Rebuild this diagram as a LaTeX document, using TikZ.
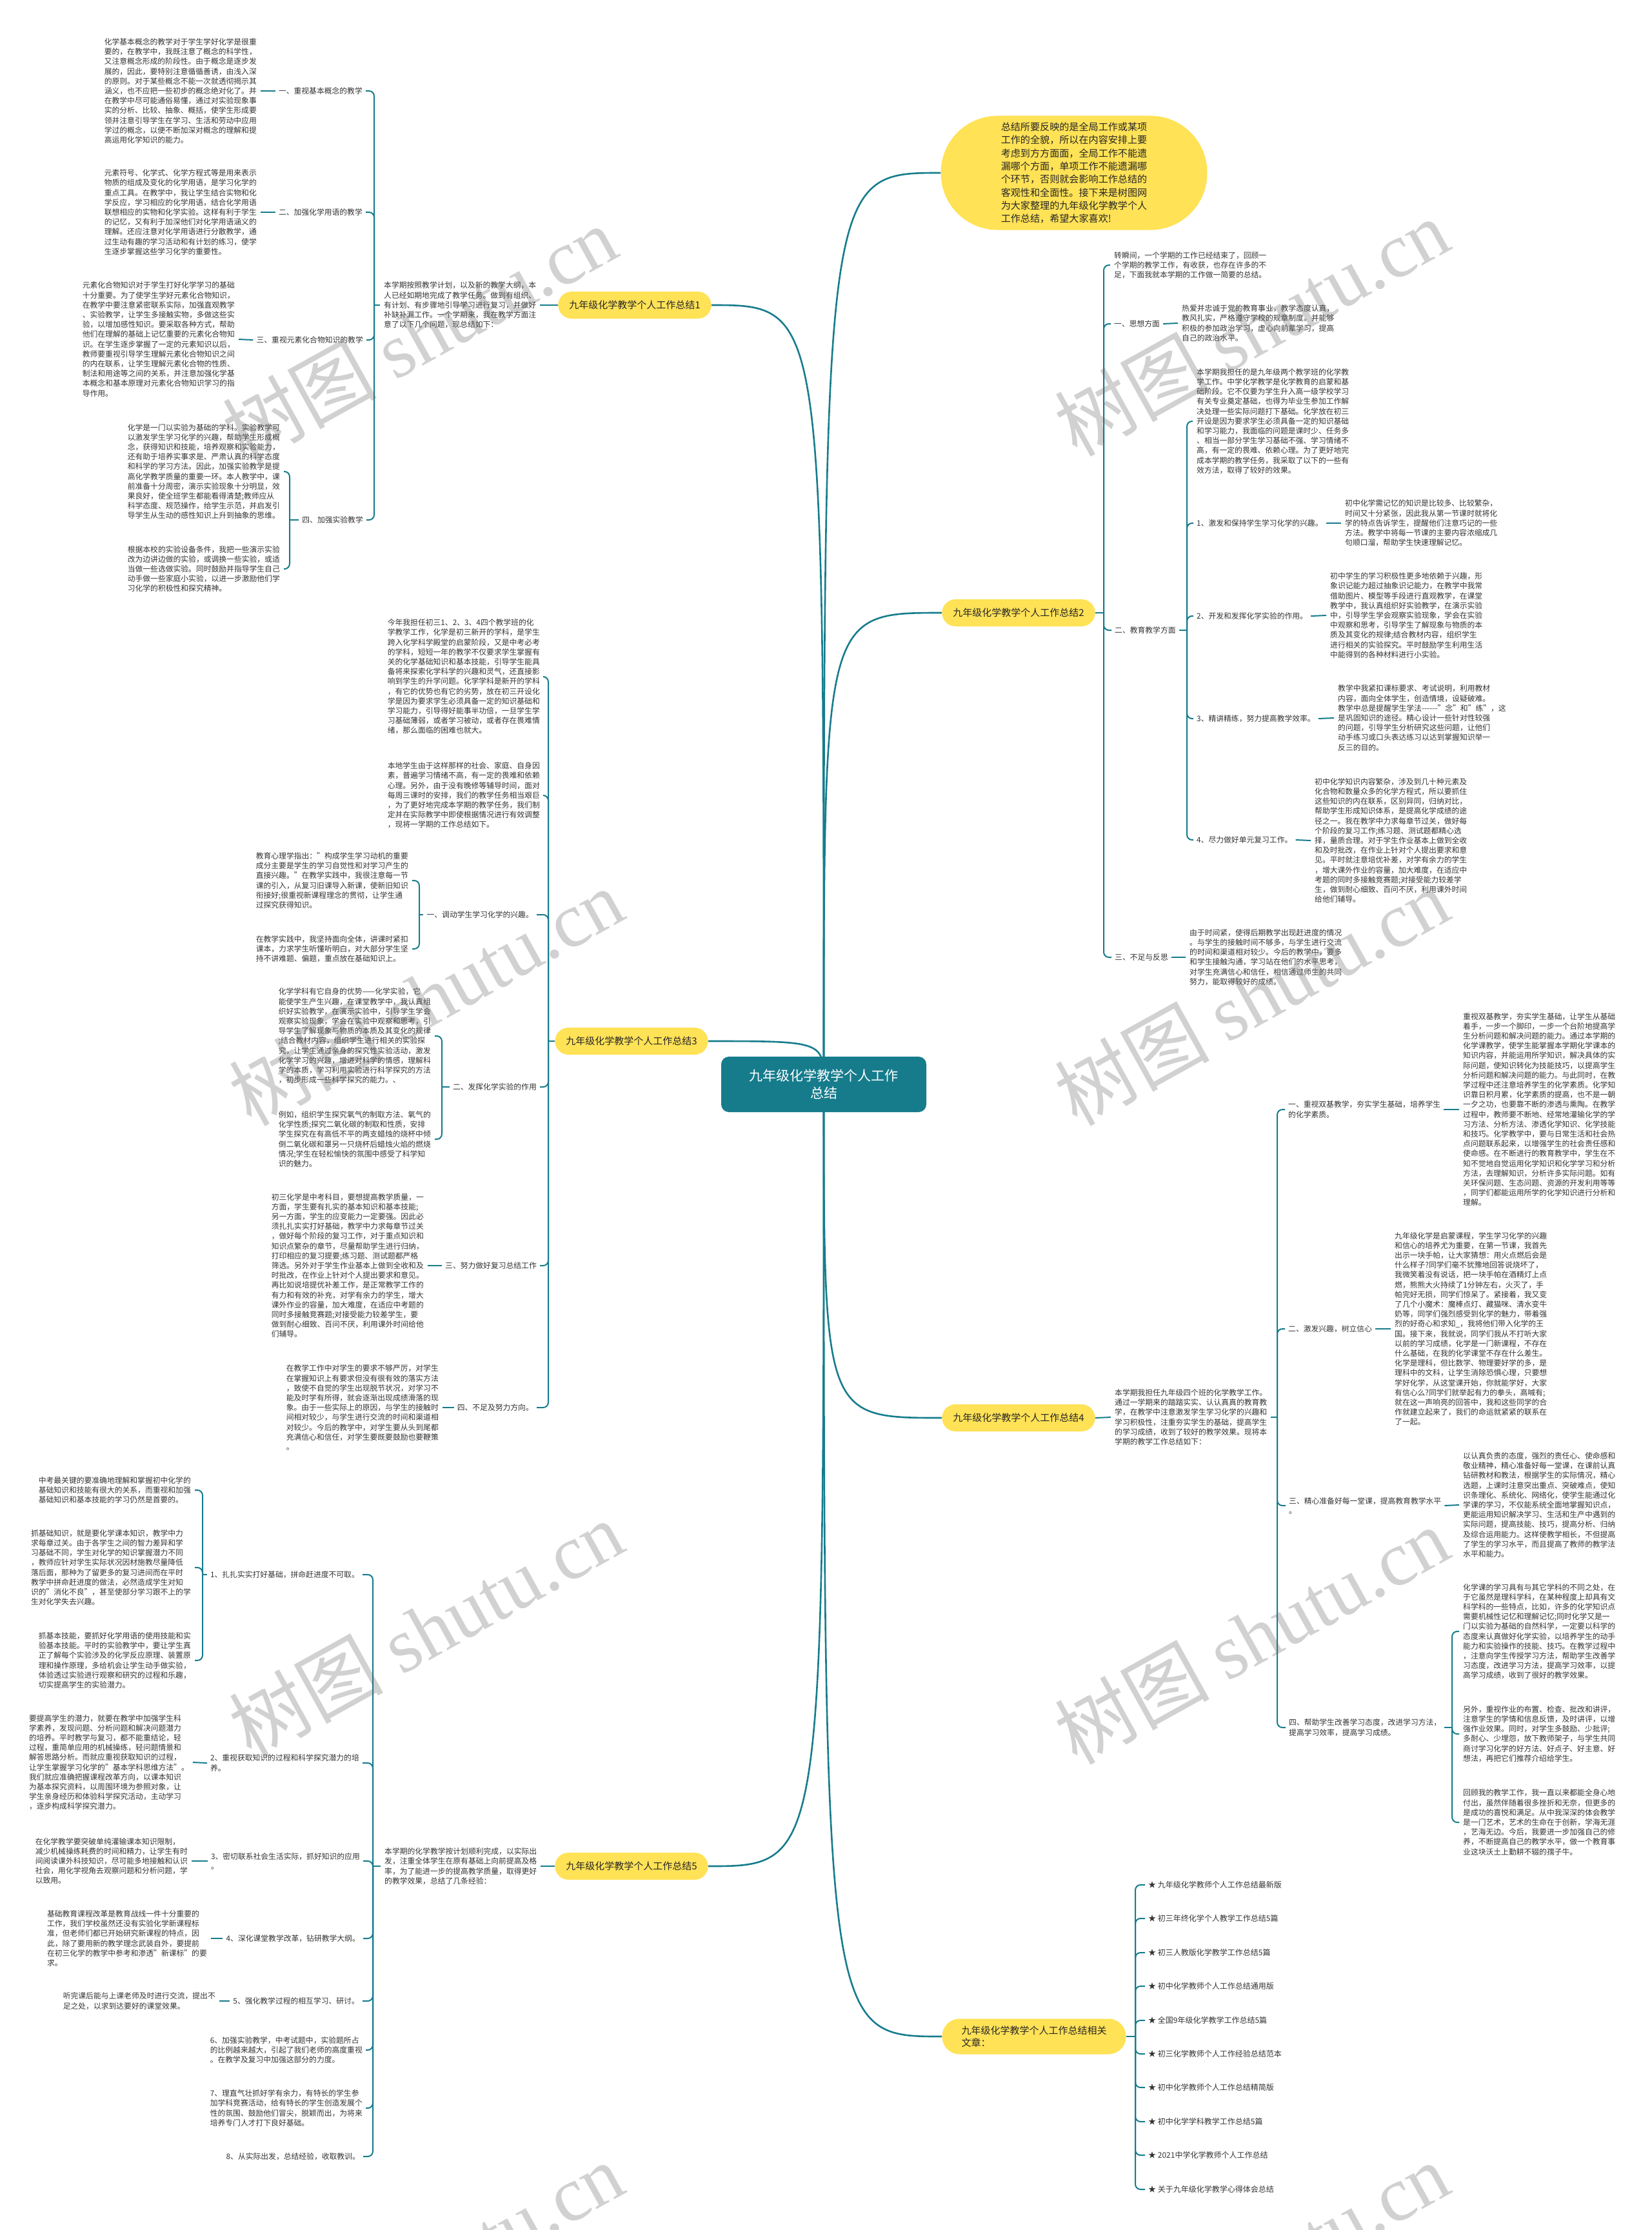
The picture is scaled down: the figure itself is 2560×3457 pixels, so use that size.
\documentclass[tikz,border=0pt]{standalone}
\usepackage{fontspec}
\setmainfont{Noto Sans CJK SC}
\newfontfamily\wmfont{Liberation Serif}
\usetikzlibrary{backgrounds}
\definecolor{branch}{RGB}{22,124,140}
\definecolor{sun}{RGB}{255,226,86}
\definecolor{ink}{RGB}{51,51,51}
\pagecolor{white}
\begin{document}
\begin{tikzpicture}[x=1pt, y=-1pt,
    txt/.style={font=\fontsize{11.8}{15.2}\selectfont, text=ink, align=left, inner xsep=6pt, inner ysep=2pt},
    lab/.style={font=\fontsize{11.8}{15.2}\selectfont, text=ink, align=left, inner xsep=5pt, inner ysep=2pt},
    rellab/.style={font=\fontsize{12}{15}\selectfont, text=ink, inner xsep=5pt, inner ysep=2pt, anchor=west},
    topic/.style={fill=sun, rounded corners=21pt, minimum height=42pt, inner xsep=17pt,
                  font=\fontsize{15}{19}\selectfont, text=black!85},
    link/.style={draw=branch, line width=2pt, rounded corners=8pt},
    trunk/.style={draw=branch, line width=2.6pt},
    wm/.style={text=black!60, text opacity=0.3, rotate=29, font=\fontsize{120}{120}\selectfont}]
  \useasboundingbox (0,0) rectangle (2560,3457);

  % root and main topics
  \node[fill=branch, rounded corners=12pt, text=white, align=center, minimum width=318pt,
        minimum height=86pt, font=\fontsize{21}{27}\selectfont] (root) at (1277,1681)
        {九年级化学教学个人工作\\总结};
  \node[fill=sun, rounded corners=88pt, minimum width=413pt, minimum height=177pt, align=left,
        font=\fontsize{15.1}{20.3}\selectfont, text=black!85] (lead) at (1665,268)
        {总结所要反映的是全局工作或某项\\工作的全貌，所以在内容安排上要\\考虑到方方面面，全局工作不能遗\\漏哪个方面，单项工作不能遗漏哪\\个环节，否则就会影响工作总结的\\客观性和全面性。接下来是树图网\\为大家整理的九年级化学教学个人\\工作总结，希望大家喜欢!};
  \node[topic] (t1) at (984,473) {九年级化学教学个人工作总结1};
  \node[topic] (t2) at (1579,950) {九年级化学教学个人工作总结2};
  \node[topic] (t3) at (979,1614) {九年级化学教学个人工作总结3};
  \node[topic] (t4) at (1579,2198) {九年级化学教学个人工作总结4};
  \node[topic] (t5) at (979,2893) {九年级化学教学个人工作总结5};
  \node[topic, rounded corners=27pt, minimum height=55pt, inner xsep=30pt, align=left] (rel) at (1603,3157)
        {九年级化学教学个人工作总结相关\\文章：};

  % summary 1
  \coordinate (h1) at (580,473);
  \node[txt, anchor=west] (s1in) at (589,473) {本学期按照教学计划，以及新的教学大纲，本\\人已经如期地完成了教学任务。做到有组织、\\有计划、有步骤地引导学习进行复习，并做好\\补缺补漏工作。一个学期来，我在教学方面注\\意了以下几个问题，现总结如下：};
  \node[lab, anchor=east] (s1a) at (567,141) {一、重视基本概念的教学};
  \node[lab, anchor=east] (s1b) at (567,329) {二、加强化学用语的教学};
  \node[lab, anchor=east] (s1c) at (568,527) {三、重视元素化合物知识的教学};
  \node[lab, anchor=east] (s1d) at (568,806) {四、加强实验教学};
  \node[txt, anchor=east] (s1at) at (404,141) {化学基本概念的教学对于学生学好化学是很重\\要的，在教学中，我既注意了概念的科学性，\\又注意概念形成的阶段性。由于概念是逐步发\\展的，因此，要特别注意循循善诱，由浅入深\\的原则。对于某些概念不能一次就透彻揭示其\\涵义，也不应把一些初步的概念绝对化了。并\\在教学中尽可能通俗易懂，通过对实验现象事\\实的分析、比较、抽象、概括，使学生形成要\\领并注意引导学生在学习、生活和劳动中应用\\学过的概念，以便不断加深对概念的理解和提\\高运用化学知识的能力。};
  \node[txt, anchor=east] (s1bt) at (404,329) {元素符号、化学式、化学方程式等是用来表示\\物质的组成及变化的化学用语，是学习化学的\\重点工具。在教学中，我让学生结合实物和化\\学反应，学习相应的化学用语，结合化学用语\\联想相应的实物和化学实验。这样有利于学生\\的记忆，又有利于加深他们对化学用语涵义的\\理解。还应注意对化学用语进行分散教学，通\\过生动有趣的学习活动和有计划的练习，使学\\生逐步掌握这些学习化学的重要性。};
  \node[txt, anchor=east] (s1ct) at (370,526) {元素化合物知识对于学生打好化学学习的基础\\十分重要。为了使学生学好元素化合物知识，\\在教学中要注意紧密联系实际，加强直观教学\\、实验教学，让学生多接触实物，多做这些实\\验，以增加感性知识。要采取各种方式，帮助\\他们在理解的基础上记忆重要的元素化合物知\\识。在学生逐步掌握了一定的元素知识以后，\\教师要重视引导学生理解元素化合物知识之间\\的内在联系，让学生理解元素化合物的性质、\\制法和用途等之间的关系，并注意加强化学基\\本概念和基本原理对元素化合物知识学习的指\\导作用。};
  \coordinate (h1d) at (449,806);
  \node[txt, anchor=east] (s1dt1) at (440,731) {化学是一门以实验为基础的学科。实验教学可\\以激发学生学习化学的兴趣，帮助学生形成概\\念，获得知识和技能，培养观察和实验能力，\\还有助于培养实事求是、严肃认真的科学态度\\和科学的学习方法。因此，加强实验教学是提\\高化学教学质量的重要一环。本人教学中，课\\前准备十分周密，演示实验现象十分明显，效\\果良好，使全班学生都能看得清楚;教师应从\\科学态度、规范操作，给学生示范，并启发引\\导学生从生动的感性知识上升到抽象的思维。};
  \node[txt, anchor=east] (s1dt2) at (440,882) {根据本校的实验设备条件，我把一些演示实验\\改为边讲边做的实验，或调换一些实验，或适\\当做一些选做实验。同时鼓励并指导学生自己\\动手做一些家庭小实验，以进一步激励他们学\\习化学的积极性和探究精神。};

  % summary 3
  \coordinate (h3) at (850,1614);
  \node[txt, anchor=east] (s3in1) at (843,1049) {今年我担任初三1、2、3、4四个教学班的化\\学教学工作，化学是初三新开的学科，是学生\\跨入化学科学殿堂的启蒙阶段，又是中考必考\\的学科，短短一年的教学不仅要求学生掌握有\\关的化学基础知识和基本技能，引导学生能具\\备将来探索化学科学的兴趣和灵气，还直接影\\响到学生的升学问题。化学学科是新开的学科\\，有它的优势也有它的劣势，放在初三开设化\\学是因为要求学生必须具备一定的知识基础和\\学习能力，引导得好能事半功倍，一旦学生学\\习基础薄弱，或者学习被动，或者存在畏难情\\绪，那么面临的困难也就大。};
  \node[txt, anchor=east] (s3in2) at (843,1233) {本地学生由于这样那样的社会、家庭、自身因\\素，普遍学习情绪不高，有一定的畏难和依赖\\心理。另外，由于没有晚修等辅导时间，面对\\每周三课时的安排，我们的教学任务相当艰巨\\，为了更好地完成本学期的教学任务，我们制\\定并在实际教学中即使根据情况进行有效调整\\，现将一学期的工作总结如下。};
  \node[lab, anchor=east] (s3a) at (832,1418) {一、调动学生学习化学的兴趣。};
  \node[lab, anchor=east] (s3b) at (837,1685) {二、发挥化学实验的作用};
  \node[lab, anchor=east] (s3c) at (837,1962) {三、努力做好复习总结工作};
  \node[lab, anchor=east] (s3d) at (832,2182) {四、不足及努力方向。};
  \coordinate (h3a) at (650,1418);
  \node[txt, anchor=east] (s3at1) at (639,1365) {教育心理学指出："构成学生学习动机的重要\\成分主要是学生的学习自觉性和对学习产生的\\直接兴趣。"在教学实践中，我很注意每一节\\课的引入，从复习旧课导入新课，使新旧知识\\衔接好;很重视新课程理念的贯彻，让学生通\\过探究获得知识。};
  \node[txt, anchor=east] (s3at2) at (639,1471) {在教学实践中，我坚持面向全体，讲课时紧扣\\课本，力求学生听懂听明白，对大部分学生坚\\持不讲难题、偏题，重点放在基础知识上。};
  \coordinate (h3b) at (685,1685);
  \node[txt, anchor=east] (s3bt1) at (674,1606) {化学学科有它自身的优势——化学实验，它\\能使学生产生兴趣，在课堂教学中，我认真组\\织好实验教学，在演示实验中，引导学生学会\\观察实验现象，学会在实验中观察和思考，引\\导学生了解现象与物质的本质及其变化的规律\\;结合教材内容，组织学生进行相关的实验探\\究，让学生通过亲身的探究性实验活动，激发\\化学学习的兴趣，增进对科学的情感，理解科\\学的本质，学习利用实验进行科学探究的方法\\，初步形成一些科学探究的能力。、};
  \node[txt, anchor=east] (s3bt2) at (674,1766) {例如，组织学生探究氧气的制取方法、氧气的\\化学性质;探究二氧化碳的制取和性质，安排\\学生探究在有高低不平的两支蜡烛的烧杯中倾\\倒二氧化碳和罩另一只烧杯后蜡烛火焰的燃烧\\情况;学生在轻松愉快的氛围中感受了科学知\\识的魅力。};
  \node[txt, anchor=east] (s3ct) at (663,1962) {初三化学是中考科目，要想提高教学质量，一\\方面，学生要有扎实的基本知识和基本技能;\\另一方面，学生的应变能力一定要强。因此必\\须扎扎实实打好基础，教学中力求每章节过关\\，做好每个阶段的复习工作，对于重点知识和\\知识点繁杂的章节，尽量帮助学生进行归纳，\\打印相应的复习提要;练习题、测试题都严格\\筛选。另外对于学生作业基本上做到全收和及\\时批改，在作业上针对个人提出要求和意见。\\再比如说培提优补差工作，是正常教学工作的\\有力和有效的补充，对学有余力的学生，增大\\课外作业的容量，加大难度，在适应中考题的\\同时多接触竞赛题;对接受能力较差学生，要\\做到耐心细致、百问不厌，利用课外时间给他\\们辅导。};
  \node[txt, anchor=east] (s3dt) at (686,2182) {在教学工作中对学生的要求不够严厉，对学生\\在掌握知识上有要求但没有很有效的落实方法\\，致使不自觉的学生出现脱节状况，对学习不\\能及时学有所得，就会逐渐出现成绩滑落的现\\象。由于一些实际上的原因，与学生的接触时\\间相对较少，与学生进行交流的时间和渠道相\\对较少。今后的教学中，对学生要从头到尾都\\充满信心和信任，对学生要既要鼓励也要鞭策\\。};

  % summary 5
  \coordinate (h5) at (578,2893);
  \node[txt, anchor=west] (s5in) at (590,2893) {本学期的化学教学按计划顺利完成，以实际出\\发，注重全体学生在原有基础上向前提高及格\\率，为了能进一步的提高教学质量，取得更好\\的教学效果，总结了几条经验：};
  \node[lab, anchor=east] (s5a) at (562,2441) {1、扎扎实实打好基础，拼命赶进度不可取。};
  \node[lab, anchor=east] (s5b) at (562,2733) {2、重视获取知识的过程和科学探究潜力的培\\养。};
  \node[lab, anchor=east] (s5c) at (563,2885) {3、密切联系社会生活实际，抓好知识的应用\\。};
  \node[lab, anchor=east] (s5d) at (563,3005) {4、深化课堂教学改革，钻研教学大纲。};
  \node[lab, anchor=east] (s5e) at (562,3102) {5、强化教学过程的相互学习、研讨。};
  \node[lab, anchor=east] (s5f) at (567,3178) {6、加强实验教学，中考试题中，实验题所占\\的比例越来越大，引起了我们老师的高度重视\\。在教学及复习中加强这部分的力度。};
  \node[lab, anchor=east] (s5g) at (567,3268) {7、理直气壮抓好学有余力，有特长的学生参\\加学科竞赛活动，给有特长的学生创造发展个\\性的氛围、鼓励他们冒尖，脱颖而出，为将来\\培养专门人才打下良好基础。};
  \node[lab, anchor=east] (s5h) at (563,3343) {8、从实际出发，总结经验，收取教训。};
  \coordinate (h5a) at (314,2441);
  \node[txt, anchor=east] (s5at1) at (302,2310) {中考最关键的要准确地理解和掌握初中化学的\\基础知识和技能有很大的关系，而重视和加强\\基础知识和基本技能的学习仍然是首要的。};
  \node[txt, anchor=east] (s5at2) at (302,2430) {抓基础知识，就是要化学课本知识，教学中力\\求每章过关。由于各学生之间的智力差异和学\\习基础不同，学生对化学的知识掌握潜力不同\\，教师应针对学生实际状况因材施教尽量降低\\落后面，那种为了留更多的复习进间而在平时\\教学中拼命赶进度的做法，必然造成学生对知\\识的"消化不良"，甚至使部分学习跟不上的学\\生对化学失去兴趣。};
  \node[txt, anchor=east] (s5at3) at (302,2574) {抓基本技能，要抓好化学用语的使用技能和实\\验基本技能。平时的实验教学中，要让学生真\\正了解每个实验涉及的化学反应原理、装置原\\理和操作原理，多给机会让学生动手做实验，\\体验透过实验进行观察和研究的过程和乐趣，\\切实提高学生的实验潜力。};
  \node[txt, anchor=east] (s5bt) at (299,2732) {要提高学生的潜力，就要在教学中加强学生科\\学素养，发现问题、分析问题和解决问题潜力\\的培养。平时教学与复习，都不能重结论，轻\\过程，重简单应用的机械操练，轻问题情景和\\解答思路分析。而就应重视获取知识的过程，\\让学生掌握学习化学的"基本学科思维方法"。\\我们就应准确把握课程改革方向，以课本知识\\为基本探究资料，以周围环境为参照对象，让\\学生亲身经历和体验科学探究活动，主动学习\\，逐步构成科学探究潜力。};
  \node[txt, anchor=east] (s5ct) at (297,2885) {在化学教学要突破单纯灌输课本知识限制，\\减少机械操练耗费的时间和精力，让学生有时\\间阅读课外科技知识，尽可能多地接触和认识\\社会，用化学视角去观察问题和分析问题，学\\以致用。};
  \node[txt, anchor=east] (s5dt) at (327,3005) {基础教育课程改革是教育战线一件十分重要的\\工作，我们学校虽然还没有实验化学新课程标\\准，但老师们都已开始研究新课程的特点，因\\此，除了要用新的教学理念武装自外，要提前\\在初三化学的教学中参考和渗透"新课标"的要\\求。};
  \node[txt, anchor=east] (s5et) at (340,3102) {听完课后能与上课老师及时进行交流，提出不\\足之处，以求到达要好的课堂效果。};

  % summary 2
  \coordinate (h2) at (1711,950);
  \node[txt, anchor=west] (s2in) at (1721,411) {转瞬间，一个学期的工作已经结束了，回顾一\\个学期的教学工作，有收获，也存在许多的不\\足，下面我就本学期的工作做一简要的总结。};
  \node[lab, anchor=west] (s2a) at (1722,502) {一、思想方面};
  \node[lab, anchor=west] (s2b) at (1723,977) {二、教育教学方面};
  \node[lab, anchor=west] (s2c) at (1723,1484) {三、不足与反思};
  \node[txt, anchor=west] (s2at) at (1826,501) {热爱并忠诚于党的教育事业，教学态度认真，\\教风扎实，严格遵守学校的规章制度。并能够\\积极的参加政治学习，虚心向前辈学习，提高\\自己的政治水平。};
  \node[txt, anchor=west] (s2ct) at (1838,1484) {由于时间紧，使得后期教学出现赶进度的情况\\。与学生的接触时间不够多，与学生进行交流\\的时间和渠道相对较少。今后的教学中，要多\\和学生接触沟通，学习站在他们的水平思考，\\对学生充满信心和信任，相信通过师生的共同\\努力，能取得较好的成绩。};
  \coordinate (h2b) at (1840,977);
  \node[txt, anchor=west] (s2bt) at (1849,653) {本学期我担任的是九年级两个教学班的化学教\\学工作。中学化学教学是化学教育的启蒙和基\\础阶段。它不仅要为学生升入高一级学校学习\\有关专业奠定基础，也得为毕业生参加工作解\\决处理一些实际问题打下基础。化学放在初三\\开设是因为要求学生必须具备一定的知识基础\\和学习能力，我面临的问题是课时少、任务多\\、相当一部分学生学习基础不强、学习情绪不\\高，有一定的畏难、依赖心理。为了更好地完\\成本学期的教学任务，我采取了以下的一些有\\效方法，取得了较好的效果。};
  \node[lab, anchor=west] (s2b1) at (1850,811) {1、激发和保持学生学习化学的兴趣。};
  \node[lab, anchor=west] (s2b2) at (1850,955) {2、开发和发挥化学实验的作用。};
  \node[lab, anchor=west] (s2b3) at (1850,1114) {3、精讲精练，努力提高教学效率。};
  \node[lab, anchor=west] (s2b4) at (1850,1302) {4、尽力做好单元复习工作。};
  \node[txt, anchor=west] (s2b1t) at (2079,811) {初中化学需记忆的知识是比较多、比较繁杂，\\时间又十分紧张，因此我从第一节课时就将化\\学的特点告诉学生，提醒他们注意巧记的一些\\方法。教学中将每一节课的主要内容浓缩成几\\句顺口溜，帮助学生快速理解记忆。};
  \node[txt, anchor=west] (s2b2t) at (2056,954) {初中学生的学习积极性更多地依赖于兴趣，形\\象识记能力超过抽象识记能力，在教学中我常\\借助图片、模型等手段进行直观教学，在课堂\\教学中，我认真组织好实验教学，在演示实验\\中，引导学生学会观察实验现象，学会在实验\\中观察和思考，引导学生了解现象与物质的本\\质及其变化的规律;结合教材内容，组织学生\\进行相关的实验探究。平时鼓励学生利用生活\\中能得到的各种材料进行小实验。};
  \node[txt, anchor=west] (s2b3t) at (2068,1113) {教学中我紧扣课标要求、考试说明，利用教材\\内容，面向全体学生，创造情境，设疑破难。\\教学中总是提醒学生学法-{}-{}-{}-{}-{}-"念"和"练"，这\\是巩固知识的途径。精心设计一些针对性较强\\的问题，引导学生分析研究这些问题，让他们\\动手练习或口头表达练习以达到掌握知识举一\\反三的目的。};
  \node[txt, anchor=west] (s2b4t) at (2032,1303) {初中化学知识内容繁杂，涉及到几十种元素及\\化合物和数量众多的化学方程式，所以要抓住\\这些知识的内在联系，区别异同，归纳对比，\\帮助学生形成知识体系，是提高化学成绩的途\\径之一。我在教学中力求每章节过关，做好每\\个阶段的复习工作;练习题、测试题都精心选\\择，量质合理。对于学生作业基本上做到全收\\和及时批改，在作业上针对个人提出要求和意\\见。平时就注意培优补差，对学有余力的学生\\，增大课外作业的容量，加大难度，在适应中\\考题的同时多接触竞赛题;对接受能力较差学\\生，做到耐心细致、百问不厌，利用课外时间\\给他们辅导。};

  % summary 4
  \coordinate (h4) at (1980,2197);
  \node[txt, anchor=west] (s4in) at (1722,2197) {本学期我担任九年级四个班的化学教学工作。\\通过一学期来的踏踏实实、认认真真的教育教\\学，在教学中注意激发学生学习化学的兴趣和\\学习积极性，注重夯实学生的基础，提高学生\\的学习成绩，收到了较好的教学效果。现将本\\学期的教学工作总结如下：};
  \node[lab, anchor=west] (s4a) at (1992,1720) {一、重视双基教学，夯实学生基础，培养学生\\的化学素质。};
  \node[lab, anchor=west] (s4b) at (1992,2060) {二、激发兴趣，树立信心};
  \node[lab, anchor=west] (s4c) at (1993,2334) {三、精心准备好每一堂课，提高教育教学水平\\。};
  \node[lab, anchor=west] (s4d) at (1993,2678) {四、帮助学生改善学习态度，改进学习方法，\\提高学习效率，提高学习成绩。};
  \node[txt, anchor=west] (s4at) at (2262,1720) {重视双基教学，夯实学生基础，让学生从基础\\着手，一步一个脚印，一步一个台阶地提高学\\生分析问题和解决问题的能力。通过本学期的\\化学课教学，使学生能掌握本学期化学课本的\\知识内容，并能运用所学知识，解决具体的实\\际问题，使知识转化为技能技巧，以提高学生\\分析问题和解决问题的能力。与此同时，在教\\学过程中还注意培养学生的化学素质。化学知\\识靠日积月累，化学素质的提高，也不是一朝\\一夕之功，也要靠不断的渗透与熏陶。在教学\\过程中，教师要不断地、经常地灌输化学的学\\习方法、分析方法、渗透化学知识、化学技能\\和技巧。化学教学中，要与日常生活和社会热\\点问题联系起来，以增强学生的社会责任感和\\使命感。在不断进行的教育教学中，学生在不\\知不觉地自觉运用化学知识和化学学习和分析\\方法，去理解知识，分析许多实际问题。如有\\关环保问题、生态问题、资源的开发利用等等\\，同学们都能运用所学的化学知识进行分析和\\理解。};
  \node[txt, anchor=west] (s4bt) at (2156,2060) {九年级化学是启蒙课程，学生学习化学的兴趣\\和信心的培养尤为重要，在第一节课，我首先\\出示一块手帕，让大家猜想：用火点燃后会是\\什么样子?同学们毫不犹豫地回答说烧坏了，\\我微笑着没有说话，把一块手帕在酒精灯上点\\燃，熊熊大火持续了1分钟左右，火灭了，手\\帕完好无损，同学们惊呆了。紧接着，我又变\\了几个小魔术：魔棒点灯、藏猫咪、清水变牛\\奶等，同学们强烈感受到化学的魅力，带着强\\烈的好奇心和求知\_，我将他们带入化学的王\\国。接下来，我就说，同学们我从不打听大家\\以前的学习成绩，化学是一门新课程，不存在\\什么基础，在我的化学课堂不存在什么差生。\\化学是理科，但比数学、物理要好学的多，是\\理科中的文科，让学生消除恐惧心理，只要想\\学好化学，从这堂课开始，你就能学好，大家\\有信心么?同学们就举起有力的拳头，高喊有;\\就在这一声响亮的回答中，我和这些同学的合\\作就建立起来了，我们的命运就紧紧的联系在\\了一起。};
  \node[txt, anchor=west] (s4ct) at (2262,2333) {以认真负责的态度，强烈的责任心、使命感和\\敬业精神，精心准备好每一堂课，在课前认真\\钻研教材和教法，根据学生的实际情况，精心\\选题，上课时注意突出重点、突破难点，使知\\识条理化、系统化、网络化，使学生能通过化\\学课的学习，不仅能系统全面地掌握知识点，\\更能运用知识解决学习、生活和生产中遇到的\\实际问题，提高技能、技巧，提高分析、归纳\\及综合运用能力。这样使教学相长，不但提高\\了学生的学习水平，而且提高了教师的教学法\\水平和能力。};
  \coordinate (h4d) at (2251,2678);
  \node[txt, anchor=west] (s4dt1) at (2262,2529) {化学课的学习具有与其它学科的不同之处，在\\于它虽然是理科学科，在某种程度上却具有文\\科学科的一些特点，比如，许多的化学知识点\\需要机械性记忆和理解记忆;同时化学又是一\\门以实验为基础的自然科学，一定要以科学的\\态度来认真做好化学实验，以培养学生的动手\\能力和实验操作的技能、技巧。在教学过程中\\，注意向学生传授学习方法，帮助学生改善学\\习态度，改进学习方法，提高学习效率，以提\\高学习成绩，收到了很好的教学效果。};
  \node[txt, anchor=west] (s4dt2) at (2262,2688) {另外，重视作业的布置、检查、批改和讲评，\\注意学生的学情和信息反馈，及时讲评，以增\\强作业效果。同时，对学生多鼓励、少批评;\\多耐心、少埋怨，放下教师架子，与学生共同\\商讨学习化学的好方法、好点子、好主意、好\\想法，再把它们推荐介绍给学生。};
  \node[txt, anchor=west] (s4dt3) at (2262,2825) {回顾我的教学工作，我一直以来都能全身心地\\付出，虽然伴随着很多挫折和无奈，但更多的\\是成功的喜悦和满足。从中我深深的体会教学\\是一门艺术，艺术的生命在于创新，学海无涯\\，艺海无边。今后，我要进一步加强自己的修\\养，不断提高自己的教学水平，做一个教育事\\业这块沃土上勤耕不辍的孺子牛。};

  % related articles
  \coordinate (hr) at (1760,3157);
  \node[rellab] (r1) at (1775,2922) {★ 九年级化学教师个人工作总结最新版};
  \node[rellab] (r2) at (1775,2974) {★ 初三年终化学个人教学工作总结5篇};
  \node[rellab] (r3) at (1775,3027) {★ 初三人教版化学教学工作总结5篇};
  \node[rellab] (r4) at (1775,3079) {★ 初中化学教师个人工作总结通用版};
  \node[rellab] (r5) at (1775,3132) {★ 全国9年级化学教学工作总结5篇};
  \node[rellab] (r6) at (1775,3184) {★ 初三化学教师个人工作经验总结范本};
  \node[rellab] (r7) at (1775,3236) {★ 初中化学教师个人工作总结精简版};
  \node[rellab] (r8) at (1775,3289) {★ 初中化学学科教学工作总结5篇};
  \node[rellab] (r9) at (1775,3341) {★ 2021中学化学教师个人工作总结};
  \node[rellab] (r10) at (1775,3394) {★ 关于九年级化学教学心得体会总结};

  % connectors
  \begin{scope}[on background layer]
    \draw[trunk] (root.center) .. controls (1277,473) .. (t1.east);
    \draw[trunk] (root.center) .. controls (1277,268) .. (lead.west);
    \draw[trunk] (root.center) .. controls (1277,950) .. (t2.west);
    \draw[trunk] (root.center) .. controls (1277,1614) .. (t3.east);
    \draw[trunk] (root.center) .. controls (1277,2198) .. (t4.west);
    \draw[trunk] (root.center) .. controls (1277,2893) .. (t5.east);
    \draw[trunk] (root.center) .. controls (1277,3157) .. (rel.west);
  \end{scope}

  \draw[link] (t1.west) -- (s1in.east);
  \draw[link] (s1in.west) -- (h1);
  \draw[link] (h1) |- (s1a.east);
  \draw[link] (h1) |- (s1b.east);
  \draw[link] (h1) |- (s1c.east);
  \draw[link] (h1) |- (s1d.east);
  \draw[link] (s1a.west) -- (s1at.east);
  \draw[link] (s1b.west) -- (s1bt.east);
  \draw[link] (s1c.west) -- (s1ct.east);
  \draw[link] (s1d.west) -- (h1d);
  \draw[link] (h1d) |- (s1dt1.east);
  \draw[link] (h1d) |- (s1dt2.east);

  \draw[link] (t3.west) -- (h3);
  \draw[link] (h3) |- (s3in1.east);
  \draw[link] (h3) |- (s3in2.east);
  \draw[link] (h3) |- (s3a.east);
  \draw[link] (h3) |- (s3b.east);
  \draw[link] (h3) |- (s3c.east);
  \draw[link] (h3) |- (s3d.east);
  \draw[link] (s3a.west) -- (h3a);
  \draw[link] (h3a) |- (s3at1.east);
  \draw[link] (h3a) |- (s3at2.east);
  \draw[link] (s3b.west) -- (h3b);
  \draw[link] (h3b) |- (s3bt1.east);
  \draw[link] (h3b) |- (s3bt2.east);
  \draw[link] (s3c.west) -- (s3ct.east);
  \draw[link] (s3d.west) -- (s3dt.east);

  \draw[link] (t5.west) -- (s5in.east);
  \draw[link] (s5in.west) -- (h5);
  \draw[link] (h5) |- (s5a.east);
  \draw[link] (h5) |- (s5b.east);
  \draw[link] (h5) |- (s5c.east);
  \draw[link] (h5) |- (s5d.east);
  \draw[link] (h5) |- (s5e.east);
  \draw[link] (h5) |- (s5f.east);
  \draw[link] (h5) |- (s5g.east);
  \draw[link] (h5) |- (s5h.east);
  \draw[link] (s5a.west) -- (h5a);
  \draw[link] (h5a) |- (s5at1.east);
  \draw[link] (h5a) |- (s5at2.east);
  \draw[link] (h5a) |- (s5at3.east);
  \draw[link] (s5b.west) -- (s5bt.east);
  \draw[link] (s5c.west) -- (s5ct.east);
  \draw[link] (s5d.west) -- (s5dt.east);
  \draw[link] (s5e.west) -- (s5et.east);

  \draw[link] (t2.east) -- (h2);
  \draw[link] (h2) |- (s2in.west);
  \draw[link] (h2) |- (s2a.west);
  \draw[link] (h2) |- (s2b.west);
  \draw[link] (h2) |- (s2c.west);
  \draw[link] (s2a.east) -- (s2at.west);
  \draw[link] (s2c.east) -- (s2ct.west);
  \draw[link] (s2b.east) -- (h2b);
  \draw[link] (h2b) |- (s2bt.west);
  \draw[link] (h2b) |- (s2b1.west);
  \draw[link] (h2b) |- (s2b2.west);
  \draw[link] (h2b) |- (s2b3.west);
  \draw[link] (h2b) |- (s2b4.west);
  \draw[link] (s2b1.east) -- (s2b1t.west);
  \draw[link] (s2b2.east) -- (s2b2t.west);
  \draw[link] (s2b3.east) -- (s2b3t.west);
  \draw[link] (s2b4.east) -- (s2b4t.west);

  \draw[link] (t4.east) -- (s4in.west);
  \draw[link] (s4in.east) -- (h4);
  \draw[link] (h4) |- (s4a.west);
  \draw[link] (h4) |- (s4b.west);
  \draw[link] (h4) |- (s4c.west);
  \draw[link] (h4) |- (s4d.west);
  \draw[link] (s4a.east) -- (s4at.west);
  \draw[link] (s4b.east) -- (s4bt.west);
  \draw[link] (s4c.east) -- (s4ct.west);
  \draw[link] (s4d.east) -- (h4d);
  \draw[link] (h4d) |- (s4dt1.west);
  \draw[link] (h4d) |- (s4dt2.west);
  \draw[link] (h4d) |- (s4dt3.west);

  \draw[link] (rel.east) -- (hr);
  \draw[link] (hr) |- (r1.west);
  \draw[link] (hr) |- (r2.west);
  \draw[link] (hr) |- (r3.west);
  \draw[link] (hr) |- (r4.west);
  \draw[link] (hr) |- (r5.west);
  \draw[link] (hr) |- (r6.west);
  \draw[link] (hr) |- (r7.west);
  \draw[link] (hr) |- (r8.west);
  \draw[link] (hr) |- (r9.west);
  \draw[link] (hr) |- (r10.west);

  % watermarks
  \node[wm] (wm1) at (650,518) {树图 {\wmfont shutu.cn}};
  \node[wm] (wm2) at (1940,507) {树图 {\wmfont shutu.cn}};
  \node[wm] (wm3) at (660,1545) {树图 {\wmfont shutu.cn}};
  \node[wm] (wm4) at (1940,1545) {树图 {\wmfont shutu.cn}};
  \node[wm] (wm5) at (660,2525) {树图 {\wmfont shutu.cn}};
  \node[wm] (wm6) at (1940,2535) {树图 {\wmfont shutu.cn}};
  \node[wm] (wm7) at (660,3520) {树图 {\wmfont shutu.cn}};
  \node[wm] (wm8) at (1940,3520) {树图 {\wmfont shutu.cn}};
\end{tikzpicture}
\end{document}
